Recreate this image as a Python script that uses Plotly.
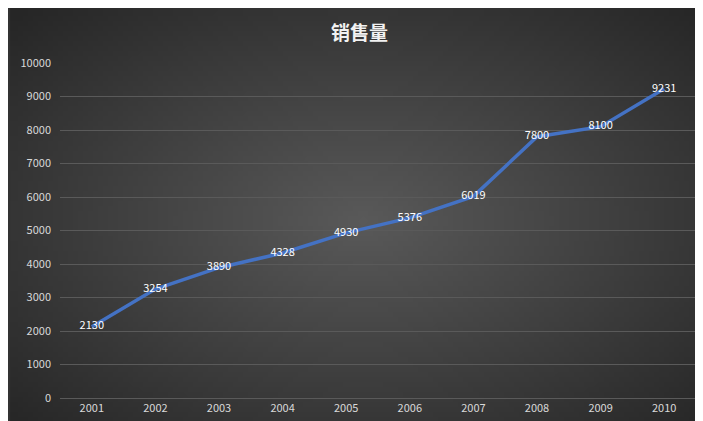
import plotly.graph_objects as go
import numpy as np, zlib, struct, base64

years = ["2001","2002","2003","2004","2005","2006","2007","2008","2009","2010"]
sales = [2130,3254,3890,4328,4930,5376,6019,7800,8100,9231]

# radial gradient background as PNG data URI
W, H = 140, 84
yy, xx = np.mgrid[0:H, 0:W]
d = np.sqrt(((xx - W/2)/(W/2))**2 + ((yy - H/2)/(H/2))**2) / np.sqrt(2)
v = (90 - (90 - 38) * np.clip(d, 0, 1)).astype(np.uint8)
raw = b"".join(b"\x00" + bytes(np.repeat(v[r], 3)) for r in range(H))
def chunk(t, data):
    c = struct.pack(">I", len(data)) + t + data
    return c + struct.pack(">I", zlib.crc32(t + data) & 0xffffffff)
png = b"\x89PNG\r\n\x1a\n" + chunk(b"IHDR", struct.pack(">IIBBBBB", W, H, 8, 2, 0, 0, 0)) \
      + chunk(b"IDAT", zlib.compress(raw)) + chunk(b"IEND", b"")
uri = "data:image/png;base64," + base64.b64encode(png).decode()

L, R, T, B = 50, 15, 55, 31
pw, ph = 703 - L - R, 421 - T - B

fig = go.Figure(go.Scatter(
    x=years, y=sales, mode="lines+text", text=[str(s) for s in sales],
    textposition="middle center", textfont=dict(color="white", size=11),
    line=dict(color="#4472C4", width=3.5)))
fig.update_layout(
    width=703, height=421, margin=dict(l=L, r=R, t=T, b=B),
    paper_bgcolor="#333333", plot_bgcolor="rgba(0,0,0,0)",
    font=dict(family="Noto Sans CJK SC, sans-serif", color="#d9d9d9", size=11),
    title=dict(text="<b>销售量</b>", x=0.5, y=0.955, xanchor="center",
               font=dict(size=19, color="#f2f2f2")),
    showlegend=False,
    images=[dict(source=uri, xref="paper", yref="paper", x=-L/pw, y=1 + T/ph,
                 sizex=703/pw, sizey=421/ph, sizing="stretch", layer="below",
                 xanchor="left", yanchor="top")],
    xaxis=dict(type="category", range=[-0.5, 9.5], showgrid=False,
               showline=True, linecolor="#5a5a5a", ticks="", zeroline=False),
    yaxis=dict(range=[0, 10000], dtick=1000, tickformat="d", gridcolor="#5a5a5a",
               gridwidth=1, zeroline=False, ticks="", ticklabelstandoff=8),
)
fig.write_html("out.html")
